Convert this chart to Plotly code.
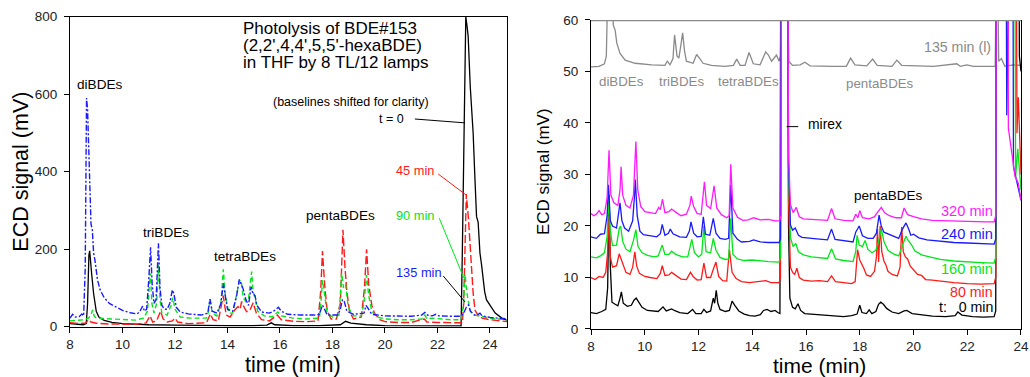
import plotly.graph_objects as go

FONT = "Liberation Sans, Arial, sans-serif"

# ---------------- Left panel (BDE#153 photolysis), (time min, signal mV) ----------------
left_t0 = [(8.0, 8), (8.3, 6), (8.5, 5), (8.62, 8), (8.67, 60), (8.72, 185), (8.75, 196), (8.82, 140),
           (8.9, 85), (9.0, 40), (9.1, 25), (9.3, 16), (9.6, 11), (10.0, 8), (11.0, 5), (12.0, 4),
           (13.0, 3), (14.0, 3), (15.0, 3), (15.5, 4), (15.67, 10), (15.8, 5), (16.5, 3), (17.5, 3),
           (18.3, 5), (18.5, 14), (18.7, 9), (19.0, 7), (19.3, 5), (20.0, 3), (21.0, 2), (22.0, 2),
           (22.9, 2), (22.95, 200), (23.02, 600), (23.08, 800), (23.12, 780), (23.17, 750), (23.25, 620),
           (23.36, 500), (23.43, 380), (23.49, 284), (23.55, 270), (23.62, 190), (23.68, 160), (23.74, 120),
           (23.8, 90), (23.87, 69), (23.95, 60), (24.0, 55), (24.12, 43), (24.2, 35), (24.38, 26),
           (24.5, 20), (24.65, 17)]
left_45 = [(8.0, 10), (8.4, 8), (8.6, 10), (8.72, 18), (8.8, 12), (9.0, 9), (9.5, 7), (10.0, 6), (10.5, 6),
           (10.9, 10), (11.05, 28), (11.15, 12), (11.3, 15), (11.45, 40), (11.55, 20), (11.7, 12), (11.9, 15),
           (12.0, 22), (12.1, 12), (12.5, 8), (13.2, 10), (13.35, 33), (13.45, 18), (13.65, 15), (13.84, 80),
           (13.95, 30), (14.1, 25), (14.3, 45), (14.4, 52), (14.48, 45), (14.54, 65), (14.65, 48), (14.73, 39),
           (14.85, 42), (14.98, 62), (15.1, 35), (15.3, 18), (15.6, 15), (15.9, 30), (16.05, 18), (16.5, 14),
           (17.0, 13), (17.45, 15), (17.55, 90), (17.62, 195), (17.7, 110), (17.8, 40), (17.95, 20), (18.15, 20),
           (18.3, 60), (18.4, 250), (18.48, 150), (18.55, 90), (18.65, 40), (18.8, 20), (19.1, 25), (19.22, 100),
           (19.3, 200), (19.38, 110), (19.5, 55), (19.6, 35), (19.8, 18), (20.0, 13), (20.5, 11), (21.0, 11),
           (21.5, 20), (21.6, 12), (22.0, 11), (22.5, 10), (22.95, 10), (23.0, 60), (23.05, 250), (23.1, 342),
           (23.18, 280), (23.24, 216), (23.3, 150), (23.36, 87), (23.43, 43), (23.55, 28), (23.6, 30),
           (23.7, 22), (24.0, 18), (24.3, 15), (24.65, 13)]
left_90 = [(8.0, 15), (8.3, 17), (8.55, 18), (8.7, 22), (8.8, 30), (8.86, 43), (8.92, 28), (9.0, 22), (9.5, 20),
           (10.0, 18), (10.5, 17), (10.8, 22), (10.95, 40), (11.06, 138), (11.12, 60), (11.2, 35), (11.3, 60),
           (11.37, 160), (11.43, 70), (11.5, 35), (11.7, 30), (11.85, 55), (11.92, 75), (12.0, 45), (12.2, 25),
           (12.6, 22), (13.2, 22), (13.28, 40), (13.34, 72), (13.42, 35), (13.6, 28), (13.75, 60), (13.84, 148),
           (13.92, 80), (14.05, 35), (14.2, 35), (14.35, 80), (14.45, 117), (14.52, 120), (14.6, 75), (14.7, 65),
           (14.8, 70), (14.92, 142), (14.98, 90), (15.05, 75), (15.15, 40), (15.4, 28), (15.7, 25), (15.92, 38),
           (16.05, 28), (16.5, 22), (17.0, 20), (17.5, 22), (17.56, 60), (17.62, 120), (17.72, 75), (17.8, 35),
           (18.0, 25), (18.25, 30), (18.35, 138), (18.42, 100), (18.5, 110), (18.6, 50), (18.8, 28), (19.1, 28),
           (19.2, 60), (19.3, 133), (19.38, 80), (19.5, 40), (19.7, 25), (20.0, 20), (20.5, 18), (21.0, 18),
           (21.4, 20), (21.52, 30), (21.6, 20), (21.8, 22), (22.5, 18), (22.9, 18), (23.0, 60), (23.05, 135),
           (23.1, 100), (23.15, 75), (23.25, 40), (23.4, 30), (23.6, 28), (24.0, 22), (24.3, 20), (24.65, 18)]
left_135 = [(8.0, 22), (8.1, 32), (8.2, 25), (8.35, 26), (8.45, 33), (8.52, 28), (8.58, 150), (8.63, 590),
            (8.67, 560), (8.73, 400), (8.8, 265), (8.85, 250), (8.9, 190), (8.95, 172), (9.05, 120), (9.15, 95),
            (9.3, 75), (9.5, 60), (9.7, 52), (10.0, 42), (10.3, 36), (10.55, 33), (10.65, 38), (10.77, 53),
            (10.84, 40), (10.92, 45), (11.0, 120), (11.07, 205), (11.13, 110), (11.2, 60), (11.28, 70),
            (11.37, 215), (11.43, 100), (11.5, 55), (11.6, 45), (11.7, 45), (11.8, 60), (11.9, 95), (11.96, 85),
            (12.05, 50), (12.2, 38), (12.5, 33), (13.0, 30), (13.25, 35), (13.33, 71), (13.42, 40), (13.6, 35),
            (13.75, 60), (13.84, 112), (13.9, 90), (14.0, 45), (14.2, 40), (14.35, 80), (14.45, 122),
            (14.52, 110), (14.6, 97), (14.7, 70), (14.8, 55), (14.9, 103), (14.97, 85), (15.05, 80), (15.12, 55),
            (15.3, 38), (15.6, 35), (15.8, 42), (15.94, 50), (16.05, 40), (16.3, 32), (16.8, 30), (17.3, 30),
            (17.5, 32), (17.62, 56), (17.7, 45), (17.8, 30), (18.2, 30), (18.3, 45), (18.38, 70), (18.45, 65),
            (18.55, 40), (18.8, 32), (19.2, 35), (19.28, 55), (19.35, 48), (19.5, 32), (20.0, 28), (20.5, 27),
            (21.0, 27), (21.4, 30), (21.52, 37), (21.62, 30), (21.8, 28), (21.94, 32), (22.05, 28), (22.5, 27),
            (22.9, 27), (23.0, 35), (23.1, 50), (23.18, 56), (23.26, 40), (23.4, 30), (23.55, 32), (23.62, 35),
            (23.7, 28), (24.0, 24), (24.3, 22), (24.65, 20)]

# ---------------- Right panel (low-level view), (time min, signal mV) ----------------
right_0 = [(8.0, 3.2), (8.2, 3.0), (8.4, 3.4), (8.55, 3.8), (8.62, 8), (8.67, 26), (8.72, 12), (8.78, 5.2),
           (8.9, 4.8), (9.0, 4.5), (9.08, 6), (9.13, 7.2), (9.2, 5), (9.35, 4.4), (9.5, 4.6), (9.6, 5.6),
           (9.68, 6), (9.75, 5.4), (9.9, 4.2), (10.1, 3.6), (10.3, 3.5), (10.5, 3.4), (10.68, 4.3), (10.8, 3.5),
           (11.0, 3.9), (11.1, 3.6), (11.3, 3.2), (11.6, 3.0), (11.78, 3.8), (11.9, 3.0), (12.1, 3.0),
           (12.2, 3.8), (12.3, 3.2), (12.45, 3.5), (12.55, 6), (12.6, 5), (12.66, 7.5), (12.72, 5), (12.8, 3.8),
           (13.0, 3.4), (13.15, 3.6), (13.25, 5.4), (13.35, 4.6), (13.5, 3.5), (13.7, 2.9), (13.9, 2.6),
           (14.1, 2.5), (14.3, 2.8), (14.42, 3.6), (14.55, 3.8), (14.7, 3.4), (14.85, 3.6), (14.95, 3.2),
           (15.03, 3.0), (15.08, 120), (15.3, 120), (15.35, 20), (15.4, 6), (15.5, 4.2), (15.6, 3.9),
           (15.7, 4.9), (15.8, 3.6), (15.95, 3.0), (16.2, 2.9), (16.5, 2.8), (16.8, 2.6), (17.1, 2.5),
           (17.4, 2.4), (17.7, 2.6), (17.9, 2.9), (18.0, 4.6), (18.08, 3.2), (18.25, 3.0), (18.35, 3.7),
           (18.45, 3.0), (18.6, 3.4), (18.7, 4.8), (18.78, 5.2), (18.88, 4.8), (19.0, 4.0), (19.2, 3.3),
           (19.45, 3.0), (19.65, 3.5), (19.75, 3.6), (19.95, 3.0), (20.3, 2.7), (20.7, 2.5), (21.2, 2.4),
           (21.55, 2.6), (21.65, 3.3), (21.8, 2.7), (22.2, 2.4), (22.6, 2.3), (23.0, 2.4), (23.06, 3.5),
           (23.1, 120), (23.9, 120), (23.94, 53), (24.0, 50)]
right_80 = [(8.0, 10.0), (8.15, 9.6), (8.3, 10.2), (8.45, 10.0), (8.55, 11), (8.62, 15), (8.67, 22), (8.72, 14),
            (8.8, 12), (8.95, 12.3), (9.05, 14.6), (9.12, 13.6), (9.2, 12.2), (9.3, 11), (9.45, 10.6), (9.55, 12),
            (9.63, 15), (9.7, 12.2), (9.8, 10.8), (10.0, 10.2), (10.2, 10.0), (10.45, 9.8), (10.58, 10.8),
            (10.65, 12.3), (10.75, 10.4), (10.9, 10.5), (11.0, 11), (11.15, 10.4), (11.35, 9.7), (11.55, 9.6),
            (11.7, 11), (11.8, 10.2), (11.95, 9.5), (12.1, 9.6), (12.2, 12.8), (12.3, 10), (12.45, 10),
            (12.55, 11.6), (12.65, 13), (12.75, 10.2), (12.9, 9.4), (13.05, 9.3), (13.15, 15.4), (13.25, 11),
            (13.4, 9.8), (13.6, 9.2), (13.9, 9.0), (14.2, 9.2), (14.5, 9.4), (14.7, 9.0), (15.0, 9.0),
            (15.05, 10), (15.1, 120), (15.3, 120), (15.35, 25), (15.42, 12), (15.5, 11), (15.58, 10.6),
            (15.66, 11.8), (15.75, 10), (15.9, 9.5), (16.2, 9.3), (16.5, 9.4), (16.8, 9.2), (16.95, 10.3),
            (17.1, 9.2), (17.4, 9.0), (17.7, 8.8), (17.83, 9.2), (17.88, 14), (17.92, 15.4), (18.0, 13.4),
            (18.08, 12.6), (18.15, 11.8), (18.25, 10.5), (18.4, 10.2), (18.55, 11.2), (18.62, 14), (18.66, 19.4),
            (18.7, 13), (18.76, 20), (18.82, 15), (18.9, 13.2), (18.97, 12.5), (19.05, 11.2), (19.2, 10.6),
            (19.4, 10.3), (19.5, 12), (19.56, 19.8), (19.62, 15), (19.7, 14), (19.78, 13.6), (19.88, 12.2),
            (20.0, 11.4), (20.15, 10.6), (20.3, 10.4), (20.45, 9.6), (20.7, 9.5), (21.0, 9.3), (21.5, 9.0),
            (22.0, 8.8), (22.5, 8.7), (23.0, 8.8), (23.06, 10), (23.1, 120), (23.8, 120), (23.85, 38),
            (23.9, 45), (24.0, 30)]
right_160 = [(8.0, 14.0), (8.2, 13.8), (8.35, 14.2), (8.5, 14.8), (8.6, 18), (8.66, 25.5), (8.72, 19), (8.8, 16.2),
             (8.95, 16.3), (9.05, 19.5), (9.1, 20), (9.18, 17), (9.3, 15.5), (9.45, 15), (9.58, 17.2), (9.67, 19.3),
             (9.75, 16), (9.9, 14.8), (10.1, 14.3), (10.35, 14.0), (10.5, 14.2), (10.65, 16.3), (10.75, 14.5),
             (10.9, 14.5), (11.0, 15.1), (11.15, 14.5), (11.4, 14.0), (11.6, 14.0), (11.75, 17.4), (11.85, 14.8),
             (12.0, 14), (12.12, 14.5), (12.2, 20), (12.28, 15), (12.45, 14.8), (12.55, 17.6), (12.65, 15.3),
             (12.8, 13.9), (13.0, 13.5), (13.12, 13.6), (13.2, 21.5), (13.28, 14.5), (13.45, 13.6), (13.7, 13.3),
             (14.0, 13.4), (14.3, 13.2), (14.6, 13.1), (15.0, 13.0), (15.05, 14), (15.1, 120), (15.3, 120),
             (15.35, 30), (15.42, 17.8), (15.52, 16), (15.62, 16.6), (15.72, 15), (15.9, 14.4), (16.2, 14.0),
             (16.5, 13.8), (16.8, 13.7), (16.95, 15.6), (17.1, 13.6), (17.4, 13.3), (17.75, 13.1), (17.85, 15),
             (17.9, 18.2), (17.98, 16.3), (18.1, 16), (18.2, 17.2), (18.3, 15.5), (18.45, 14.8), (18.6, 15.3),
             (18.7, 17), (18.8, 19.5), (18.9, 17), (19.05, 15.3), (19.25, 14.6), (19.45, 14.2), (19.6, 16.4),
             (19.72, 18), (19.8, 17.2), (19.92, 16.4), (20.05, 15.2), (20.3, 14.4), (20.6, 14.0), (21.0, 13.5),
             (21.5, 13.2), (22.0, 13.0), (22.5, 12.9), (23.0, 12.8), (23.06, 14), (23.1, 120), (23.75, 120),
             (23.8, 29.6), (23.88, 35), (24.0, 27)]
right_240 = [(8.0, 17.9), (8.2, 17.6), (8.35, 18.4), (8.5, 18.5), (8.6, 22), (8.65, 28), (8.72, 21), (8.8, 20),
             (8.95, 19.6), (9.05, 23), (9.08, 24.5), (9.15, 21), (9.25, 19.6), (9.4, 19.0), (9.55, 21), (9.62, 26),
             (9.65, 29), (9.72, 22), (9.82, 19), (9.95, 18.3), (10.2, 18.1), (10.45, 17.9), (10.58, 18.5),
             (10.65, 20.3), (10.75, 18.2), (10.88, 18.6), (10.95, 19.4), (11.05, 18.5), (11.3, 17.9), (11.55, 17.8),
             (11.66, 19), (11.72, 20.8), (11.82, 18.6), (11.95, 17.9), (12.1, 18), (12.18, 21.8), (12.26, 18.4),
             (12.42, 18.2), (12.55, 21.5), (12.65, 18.6), (12.8, 17.6), (13.0, 17.4), (13.12, 17.6), (13.2, 28),
             (13.28, 18.6), (13.45, 17.4), (13.6, 16.9), (13.9, 17.0), (14.05, 17.3), (14.3, 16.9), (14.6, 16.8),
             (15.0, 16.8), (15.05, 17.5), (15.1, 120), (15.3, 120), (15.35, 32), (15.42, 20.2), (15.5, 19.2),
             (15.6, 19.6), (15.72, 18.2), (15.85, 17.8), (16.1, 17.6), (16.4, 17.5), (16.8, 17.3), (16.95, 19.4),
             (17.08, 17.4), (17.4, 17.1), (17.75, 16.9), (17.85, 18.8), (17.92, 19.5), (17.98, 20), (18.1, 18.1),
             (18.3, 17.6), (18.5, 17.6), (18.62, 18.6), (18.72, 22.1), (18.8, 20), (18.9, 18.8), (19.05, 18.5),
             (19.25, 18), (19.45, 17.6), (19.6, 19.5), (19.72, 20.6), (19.82, 19.4), (19.9, 18.2), (20.0, 18.4),
             (20.2, 17.7), (20.5, 17.3), (21.0, 17.0), (21.5, 16.8), (22.0, 16.7), (22.5, 16.6), (23.0, 16.5),
             (23.06, 17.5), (23.1, 120), (23.42, 120), (23.47, 41.5), (23.52, 120), (23.68, 120), (23.72, 31.5),
             (23.85, 28.3), (24.0, 25)]
right_320 = [(8.0, 22.4), (8.1, 22.0), (8.2, 22.3), (8.3, 23.0), (8.4, 22.2), (8.5, 22.4), (8.6, 25.5), (8.67, 34.7),
             (8.74, 26), (8.85, 24.5), (9.0, 24), (9.08, 27), (9.12, 31.5), (9.18, 26), (9.3, 24), (9.45, 23.5),
             (9.58, 26), (9.67, 36.4), (9.74, 27), (9.85, 23.8), (10.0, 22.8), (10.2, 22.6), (10.4, 22.4),
             (10.52, 23.6), (10.58, 23.2), (10.66, 25.2), (10.75, 22.6), (10.9, 22.8), (11.0, 23.3), (11.15, 22.7),
             (11.35, 22.0), (11.55, 22.3), (11.68, 24), (11.73, 25.8), (11.82, 23.8), (11.95, 22.4), (12.1, 22.3),
             (12.22, 28.6), (12.3, 24), (12.45, 23.4), (12.58, 27.8), (12.68, 23.5), (12.85, 22.2), (13.05, 21.6),
             (13.14, 22), (13.2, 32), (13.28, 23.5), (13.45, 21.7), (13.65, 21.1), (13.85, 21.2), (14.05, 21.6),
             (14.3, 21.2), (14.6, 21.3), (14.85, 21.0), (15.02, 21.0), (15.07, 22), (15.1, 120), (15.3, 120),
             (15.35, 34), (15.42, 24.2), (15.52, 22.6), (15.64, 23.6), (15.75, 21.8), (15.9, 21.4), (16.2, 21.3),
             (16.5, 21.2), (16.8, 21.1), (16.95, 23.4), (17.08, 21.4), (17.4, 21.1), (17.75, 21.0), (17.85, 22.3),
             (17.93, 21.6), (18.0, 23), (18.1, 21.6), (18.35, 21.4), (18.55, 21.8), (18.68, 22.8), (18.8, 23.6),
             (18.92, 22.6), (19.1, 22), (19.35, 21.6), (19.55, 21.6), (19.65, 23.5), (19.78, 22.2), (20.0, 21.8),
             (20.3, 21.4), (20.7, 21.1), (21.2, 21.0), (21.7, 20.9), (22.2, 20.8), (22.7, 20.8), (23.0, 20.8),
             (23.06, 22), (23.1, 120), (23.5, 120), (23.53, 39), (23.66, 33.5), (23.78, 29.6), (23.9, 28.3),
             (24.0, 25)]
right_135l = [(8.0, 50.9), (8.3, 51.0), (8.5, 51.5), (8.57, 53), (8.62, 65), (8.78, 65), (8.83, 59), (8.9, 58),
              (8.96, 55.5), (9.08, 53.5), (9.27, 52.2), (9.64, 51.6), (10.26, 51.3), (10.75, 51.2), (10.84, 52),
              (10.94, 51.3), (11.05, 52.5), (11.11, 57.1), (11.2, 53), (11.27, 52.6), (11.34, 55), (11.41, 57.5),
              (11.48, 54), (11.55, 52), (11.8, 51.6), (11.93, 53.3), (12.05, 52.5), (12.17, 51.6), (12.48, 51.2),
              (12.98, 51.0), (13.3, 51.2), (13.42, 52.4), (13.55, 51.2), (13.73, 51.2), (13.88, 53.7), (14.04, 51.5),
              (14.29, 51.3), (14.5, 53.8), (14.6, 53.2), (14.72, 52), (14.9, 53.2), (15.0, 52), (15.05, 53),
              (15.1, 70), (15.3, 70), (15.36, 52), (15.5, 51.2), (15.78, 51.3), (15.96, 51.8), (16.15, 51.1),
              (17.0, 51.0), (17.5, 51.0), (17.66, 52.6), (17.82, 51.3), (18.26, 51.1), (18.48, 52.4), (18.65, 51.2),
              (19.2, 51.0), (19.38, 52.2), (19.56, 51.2), (20.74, 51.0), (21.61, 51.5), (21.74, 51.0), (21.98, 51.3),
              (22.23, 51.0), (23.04, 51.0), (23.08, 70), (23.13, 70), (23.17, 52), (23.27, 52.5), (23.4, 51),
              (23.7, 51.3), (24.0, 51.2)]

left_ticks_x = [8, 10, 12, 14, 16, 18, 20, 22, 24]
left_ticks_y = [0, 200, 400, 600, 800]
right_ticks_x = [8, 10, 12, 14, 16, 18, 20, 22, 24]
right_ticks_y = [0, 10, 20, 30, 40, 50, 60]

BLACK, RED, GREEN, BLUE, MAG, GRAY = "#000000", "#ff1a1a", "#00e61a", "#1a1aff", "#ff1aff", "#8a8a8a"

fig = go.Figure()


def add(data, xa, ya, color, dash="solid", width=1.3):
    fig.add_trace(go.Scatter(x=[p[0] for p in data], y=[p[1] for p in data], mode="lines",
                             line=dict(color=color, dash=dash, width=width),
                             xaxis=xa, yaxis=ya, showlegend=False, hoverinfo="skip"))


add(left_t0, "x", "y", BLACK, "solid", 1.3)
add(left_45, "x", "y", RED, "8px,3px", 1.4)
add(left_90, "x", "y", GREEN, "5px,3px", 1.4)
add(left_135, "x", "y", BLUE, "6px,2px,2px,2px", 1.4)

add(right_135l, "x2", "y2", GRAY, "solid", 1.3)
add(right_0, "x2", "y2", BLACK, "solid", 1.3)
add(right_80, "x2", "y2", RED, "solid", 1.3)
add(right_160, "x2", "y2", GREEN, "solid", 1.3)
add(right_240, "x2", "y2", BLUE, "solid", 1.3)
add(right_320, "x2", "y2", MAG, "solid", 1.3)

axis_common = dict(showline=True, linecolor="black", linewidth=1, ticks="outside", ticklen=5,
                   tickcolor="black", showgrid=False, zeroline=False, automargin=False,
                   tickfont=dict(family=FONT, size=13.5, color="#222222"))

fig.update_layout(
    width=1030, height=377, margin=dict(l=0, r=0, t=0, b=0, autoexpand=False),
    paper_bgcolor="white", plot_bgcolor="white", showlegend=False,
    xaxis=dict(domain=[0.06796, 0.49223], range=[8, 24.65], tickvals=left_ticks_x, mirror=True,
               anchor="y", **axis_common),
    yaxis=dict(domain=[0.13342, 0.95570], range=[0, 800], tickvals=left_ticks_y, mirror=True,
               anchor="x", ticklabelstandoff=4, **axis_common),
    xaxis2=dict(domain=[0.57379, 0.99126], range=[8, 24], tickvals=right_ticks_x, mirror=False,
                anchor="y2", **axis_common),
    yaxis2=dict(domain=[0.12732, 0.94695], range=[0, 60], tickvals=right_ticks_y, mirror=True,
                anchor="x2", ticklabelstandoff=4, **axis_common),
)

ann = []


def text(x, y, s, size, color="black", xa="x", ya="y", xanchor="center"):
    ann.append(dict(x=x, y=y, xref=xa, yref=ya, text=s, showarrow=False, xanchor=xanchor, yanchor="middle",
                    font=dict(family=FONT, size=size, color=color)))


# left panel texts
text(14.51, 770, "Photolysis of BDE#153", 17, xanchor="left")
text(14.51, 725, "(2,2',4,4',5,5'-hexaBDE)", 17, xanchor="left")
text(14.51, 681, "in THF by 8 TL/12 lamps", 17, xanchor="left")
text(9.15, 625, "diBDEs", 13.6)
text(11.65, 242, "triBDEs", 13.6)
text(14.67, 181, "tetraBDEs", 13.6)
text(18.32, 286, "pentaBDEs", 13.6)
text(18.69, 580, "(baselines shifted for clarity)", 12.5)
text(20.25, 536, "t = 0", 12.5)
text(21.16, 404, "45 min", 12.8, RED)
text(21.14, 288, "90 min", 12.8, GREEN)
text(21.31, 139, "135 min", 12.8, BLUE)

# right panel texts
text(9.14, 48.0, "diBDEs", 13.3, GRAY, "x2", "y2")
text(11.36, 48.0, "triBDEs", 13.3, GRAY, "x2", "y2")
text(13.87, 48.0, "tetraBDEs", 13.3, GRAY, "x2", "y2")
text(18.74, 47.7, "pentaBDEs", 13.3, GRAY, "x2", "y2")
text(22.96, 54.7, "135 min (l)", 14.2, GRAY, "x2", "y2", "right")
text(16.0, 39.75, "mirex", 13.9, "black", "x2", "y2", "left")
text(19.08, 26.0, "pentaBDEs", 13.5, "black", "x2", "y2")
text(23.03, 22.97, "320 min", 14.6, MAG, "x2", "y2", "right")
text(23.03, 18.45, "240 min", 14.6, BLUE, "x2", "y2", "right")
text(23.03, 11.6, "160 min", 14.6, GREEN, "x2", "y2", "right")
text(23.03, 7.15, "80 min", 14.2, RED, "x2", "y2", "right")
text(23.03, 4.2, "t:\u00a0\u00a0\u00a00 min", 14.2, "black", "x2", "y2", "right")

# axis titles
ann.append(dict(x=21 / 1030, y=1 - 171.7 / 377, xref="paper", yref="paper", text="ECD signal (mV)",
                textangle=-90, showarrow=False, xanchor="center", yanchor="middle",
                font=dict(family=FONT, size=21.5, color="black")))
ann.append(dict(x=292.5 / 1030, y=1 - 365 / 377, xref="paper", yref="paper", text="time (min)",
                showarrow=False, xanchor="center", yanchor="middle",
                font=dict(family=FONT, size=21.5, color="black")))
ann.append(dict(x=543.3 / 1030, y=1 - 171.7 / 377, xref="paper", yref="paper", text="ECD signal (mV)",
                textangle=-90, showarrow=False, xanchor="center", yanchor="middle",
                font=dict(family=FONT, size=17, color="black")))
ann.append(dict(x=819.7 / 1030, y=1 - 365 / 377, xref="paper", yref="paper", text="time (min)",
                showarrow=False, xanchor="center", yanchor="middle",
                font=dict(family=FONT, size=21, color="black")))
fig.update_layout(annotations=ann)

shapes = [
    dict(type="line", xref="x", yref="y", x0=21.14, y0=536, x1=23.05, y1=526, line=dict(color="black", width=1)),
    dict(type="line", xref="x", yref="y", x0=22.03, y0=394, x1=23.09, y1=340, line=dict(color=RED, width=1)),
    dict(type="line", xref="x", yref="y", x0=22.07, y0=280, x1=23.01, y1=125, line=dict(color=GREEN, width=1)),
    dict(type="line", xref="x", yref="y", x0=22.22, y0=131, x1=23.05, y1=64, line=dict(color="black", width=1)),
    dict(type="line", xref="x2", yref="y2", x0=15.28, y0=39.3, x1=15.71, y1=39.3, line=dict(color="black", width=1)),
    dict(type="line", xref="x2", yref="y2", x0=8, y0=60, x1=24, y1=60, line=dict(color=GRAY, width=2.5)),
]
fig.update_layout(shapes=shapes)

fig.write_html("out.html", config={"displayModeBar": False},
               post_script="document.body.style.margin='0';document.body.style.overflow='hidden';")
